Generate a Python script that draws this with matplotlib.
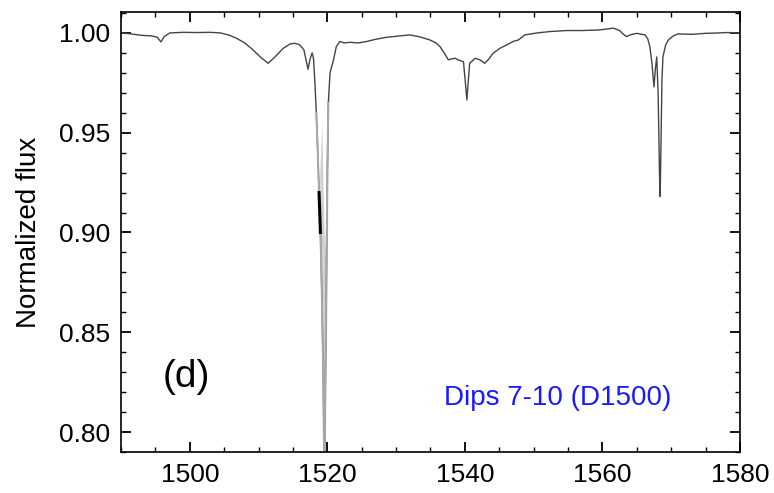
import numpy as np
import matplotlib.pyplot as plt
from matplotlib.ticker import MultipleLocator

plt.rcParams['font.family'] = ['Liberation Sans', 'DejaVu Sans']

# light curve (days, normalized flux)
days = [1490.0, 1491.5, 1493.0, 1494.5, 1495.3, 1495.8, 1496.3, 1497.1, 1499.0, 1501.0,
        1503.0, 1504.5, 1505.8, 1506.8, 1508.0, 1509.2, 1510.3, 1511.4, 1512.4, 1513.6,
        1514.6, 1515.3, 1516.0, 1516.6, 1517.0, 1517.2, 1517.5, 1517.8, 1518.0, 1518.2,
        1518.4, 1518.6, 1518.8, 1519.0, 1519.2, 1519.4, 1519.55, 1519.7, 1519.85, 1520.0,
        1520.15, 1520.4, 1520.9, 1521.3, 1521.8, 1522.5, 1523.3, 1524.5, 1525.7, 1527.0,
        1528.6, 1530.5, 1532.0, 1533.5, 1534.9, 1535.8, 1536.4, 1537.0, 1537.6, 1538.1,
        1538.6, 1539.2, 1539.8, 1540.0, 1540.3, 1540.5, 1540.7, 1541.5, 1542.2, 1542.9,
        1543.5, 1544.1, 1545.1, 1546.1, 1547.0, 1547.8, 1548.7, 1550.5, 1552.4, 1554.8,
        1557.0, 1559.6, 1561.6, 1562.5, 1563.0, 1563.5, 1564.2, 1565.0, 1566.2, 1566.6,
        1566.9, 1567.2, 1567.5, 1567.7, 1567.9, 1568.1, 1568.3, 1568.4, 1568.5, 1568.65,
        1568.8, 1569.2, 1569.6, 1570.3, 1571.0, 1573.0, 1575.0, 1577.0, 1578.1, 1580.0]
flux = [1.0000, 0.9995, 0.9988, 0.9985, 0.9978, 0.9955, 0.9982, 1.0000, 1.0003, 1.0002,
        1.0003, 1.0000, 0.9988, 0.9973, 0.9950, 0.9915, 0.9878, 0.9848, 0.9880, 0.9923,
        0.9945, 0.9948, 0.9940, 0.9915, 0.9850, 0.9818, 0.9870, 0.9900, 0.9870, 0.9750,
        0.9600, 0.9420, 0.9200, 0.9000, 0.8700, 0.8300, 0.7800, 0.8200, 0.8700, 0.9300,
        0.9650, 0.9800, 0.9865, 0.9930, 0.9957, 0.9950, 0.9953, 0.9950, 0.9957, 0.9968,
        0.9978, 0.9985, 0.9990, 0.9980, 0.9965, 0.9950, 0.9931, 0.9900, 0.9865, 0.9870,
        0.9873, 0.9862, 0.9856, 0.9780, 0.9664, 0.9760, 0.9848, 0.9873, 0.9865, 0.9848,
        0.9870, 0.9898, 0.9923, 0.9940, 0.9957, 0.9965, 0.9990, 1.0000, 1.0007, 1.0012,
        1.0012, 1.0015, 1.0024, 1.0012, 0.9995, 0.9982, 0.9992, 0.9998, 0.9990, 0.9970,
        0.9931, 0.9850, 0.9730, 0.9820, 0.9880, 0.9700, 0.9300, 0.9180, 0.9400, 0.9750,
        0.9880, 0.9940, 0.9965, 0.9985, 0.9995, 0.9993, 0.9998, 1.0000, 1.0002, 1.0000]

# grey scatter envelope inside the deep D1519 dip
band_days = [1518.9, 1519.2, 1519.5, 1519.7, 1519.9, 1520.2]
band_lo = [0.910, 0.850, 0.780, 0.790, 0.850, 0.960]
band_hi = [0.930, 0.955, 0.905, 0.890, 0.935, 0.975]

days = np.array(days)
flux = np.array(flux)

fig = plt.figure(figsize=(7.74, 4.93), dpi=100)
ax = fig.add_axes([0.1563, 0.0832, 0.7997, 0.8925])

ax.fill_between(band_days, band_lo, band_hi, color='#d2d2d2', lw=0)
ax.plot(days, flux, color='#444444', lw=1.0)
deep = (days >= 1518.3) & (days <= 1520.2)
ax.plot(days[deep], flux[deep], color='#a8a8a8', lw=1.4)
blk = (days >= 1518.8) & (days <= 1519.05)
ax.plot(days[blk], flux[blk], color='black', lw=2.2)

ax.set_xlim(1490, 1580)
ax.set_ylim(0.79, 1.0105)
ax.xaxis.set_major_locator(MultipleLocator(20))
ax.xaxis.set_minor_locator(MultipleLocator(5))
ax.yaxis.set_major_locator(MultipleLocator(0.05))
ax.yaxis.set_minor_locator(MultipleLocator(0.01))
ax.yaxis.set_major_formatter(plt.FormatStrFormatter('%.2f'))

ax.tick_params(which='both', direction='in', top=True, right=True, labelsize=19, colors='black')
ax.tick_params(which='major', length=7, width=1.3, pad=8)
ax.tick_params(which='minor', length=3.5, width=1.0)
for s in ax.spines.values():
    s.set_linewidth(1.2)

ax.set_ylabel('Normalized flux', fontsize=20, labelpad=12)

ax.text(0.068, 0.148, '(d)', transform=ax.transAxes, fontsize=28, ha='left', va='baseline')
ax.text(0.706, 0.107, 'Dips 7-10 (D1500)', transform=ax.transAxes, fontsize=20,
        color='#1a1aff', ha='center', va='baseline')

fig.savefig('out.png', dpi=100)
